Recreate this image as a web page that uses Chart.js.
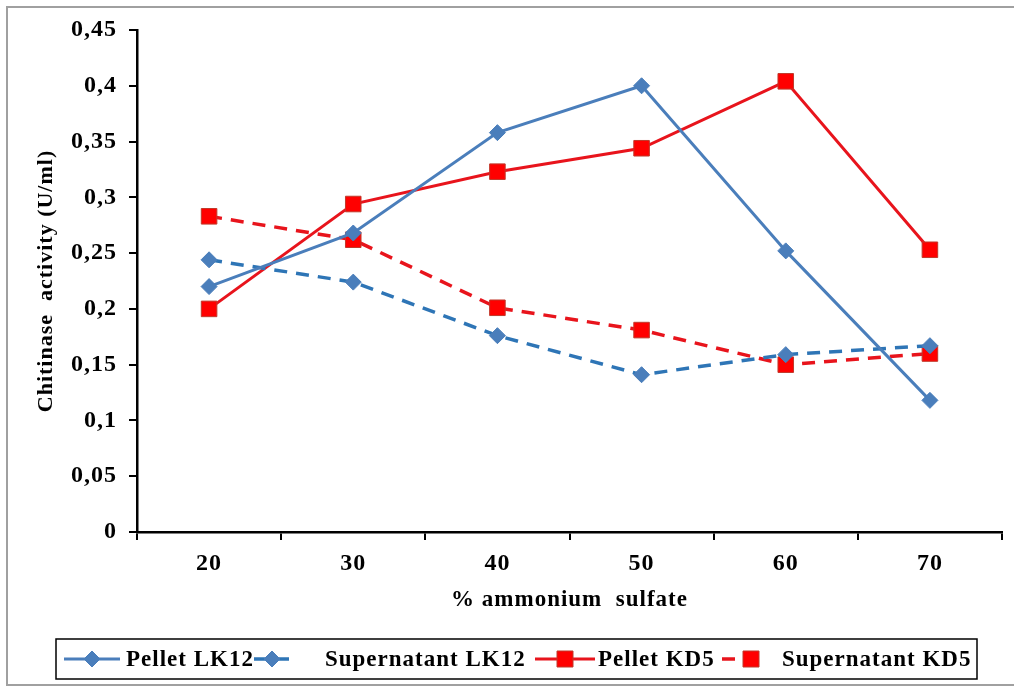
<!DOCTYPE html>
<html>
<head>
<meta charset="utf-8">
<script src="https://cdn.jsdelivr.net/npm/chart.js@4/dist/chart.umd.min.js"></script>
<style>
  html, body { margin: 0; padding: 0; background: #ffffff; }
  #wrap { width: 1014px; height: 689px; position: relative; }
  canvas { display: block; }
</style>
</head>
<body>
<div id="wrap"><canvas id="c" width="1014" height="689"></canvas></div>
<script>
// ---- data ----
const categories = ['20', '30', '40', '50', '60', '70'];
const pelletLK12 = [0.220, 0.268, 0.358, 0.400, 0.252, 0.118];
const supernatantLK12 = [0.244, 0.224, 0.176, 0.141, 0.159, 0.167];
const pelletKD5 = [0.200, 0.294, 0.323, 0.344, 0.404, 0.253];
const supernatantKD5 = [0.283, 0.262, 0.201, 0.181, 0.150, 0.160];
const yTickLabels = ['0', '0,05', '0,1', '0,15', '0,2', '0,25', '0,3', '0,35', '0,4', '0,45'];
const seriesNames = ['Pellet LK12', 'Supernatant LK12', 'Pellet KD5', 'Supernatant KD5'];
const xTitle = '% ammonium  sulfate';
const yTitle = 'Chitinase  activity (U/ml)';

const FONT = '"Liberation Serif", "Times New Roman", serif';
const BLUE = '#4a7ebb';
const BLUE_D = '#2e75b6';
const RED = '#ff0000';
const RED_LINE = '#e8141c';
const RED_EDGE = '#c0392b';

const spacingPlugin = {
  id: 'spacing',
  beforeInit(chart) { chart.ctx.letterSpacing = '1px'; },
  beforeDraw(chart) {
    const ctx = chart.ctx;
    ctx.letterSpacing = '1px';
    ctx.save();
    ctx.fillStyle = '#ffffff';
    ctx.fillRect(0, 0, chart.width, chart.height);
    ctx.strokeStyle = '#a0a0a0';
    ctx.lineWidth = 2;
    ctx.strokeRect(7, 7, chart.width + 10, 678);
    ctx.restore();
  }
};

function drawMarker(ctx, style, x, y, r, fill, edge) {
  ctx.save();
  ctx.setLineDash([]);
  ctx.fillStyle = fill;
  ctx.strokeStyle = edge;
  ctx.lineWidth = 1;
  ctx.beginPath();
  if (style === 'rectRot') {
    ctx.moveTo(x, y - r); ctx.lineTo(x + r, y); ctx.lineTo(x, y + r); ctx.lineTo(x - r, y);
  } else {
    ctx.rect(x - r, y - r, 2 * r, 2 * r);
  }
  ctx.closePath();
  ctx.fill();
  ctx.stroke();
  ctx.restore();
}

const legendPlugin = {
  id: 'boxLegend',
  afterDraw(chart, args, opts) {
    const ctx = chart.ctx;
    ctx.save();
    ctx.letterSpacing = '1px';
    ctx.strokeStyle = '#000';
    ctx.lineWidth = 1.5;
    ctx.strokeRect(opts.box[0], opts.box[1], opts.box[2], opts.box[3]);
    const cy = opts.box[1] + opts.box[3] / 2;
    chart.data.datasets.forEach((ds, i) => {
      const it = opts.items[i];
      ctx.save();
      ctx.strokeStyle = ds.borderColor;
      ctx.lineWidth = ds.borderWidth;
      ctx.setLineDash(ds.borderDash || []);
      ctx.beginPath();
      ctx.moveTo(it.sx, cy);
      ctx.lineTo(it.sx + it.sw, cy);
      ctx.stroke();
      ctx.restore();
      drawMarker(ctx, ds.pointStyle, it.mx, cy, 8,
                 ds.pointBackgroundColor, ds.pointBorderColor);
      ctx.fillStyle = '#000';
      ctx.font = 'bold 23px ' + FONT;
      ctx.textBaseline = 'middle';
      ctx.textAlign = 'left';
      ctx.fillText(ds.label, it.tx, cy + 1);
    });
    ctx.restore();
  }
};

const ctx = document.getElementById('c').getContext('2d');
new Chart(ctx, {
  type: 'line',
  data: {
    labels: categories,
    datasets: [
      { label: seriesNames[0], data: pelletLK12, borderColor: BLUE, borderWidth: 3,
        pointStyle: 'rectRot', pointRadius: 8, pointBackgroundColor: BLUE, pointBorderColor: BLUE, pointBorderWidth: 1 },
      { label: seriesNames[1], data: supernatantLK12, borderColor: BLUE_D, borderWidth: 3.5, borderDash: [13, 9],
        pointStyle: 'rectRot', pointRadius: 8, pointBackgroundColor: BLUE, pointBorderColor: BLUE, pointBorderWidth: 1 },
      { label: seriesNames[2], data: pelletKD5, borderColor: RED_LINE, borderWidth: 3,
        pointStyle: 'rect', pointRadius: 11, pointBackgroundColor: RED, pointBorderColor: RED_EDGE, pointBorderWidth: 1 },
      { label: seriesNames[3], data: supernatantKD5, borderColor: RED_LINE, borderWidth: 3.5, borderDash: [13, 9],
        pointStyle: 'rect', pointRadius: 11, pointBackgroundColor: RED, pointBorderColor: RED_EDGE, pointBorderWidth: 1 }
    ]
  },
  options: {
    responsive: false,
    animation: false,
    devicePixelRatio: 1,
    layout: { padding: { left: 0, right: 9, top: 30, bottom: 0 } },
    plugins: {
      legend: { display: false },
      tooltip: { enabled: false },
      boxLegend: {
        box: [56, 639, 921, 40],
        items: [
          { sx: 64, sw: 56, mx: 92, tx: 126 },
          { sx: 254, sw: 36, mx: 272, tx: 325 },
          { sx: 535, sw: 60, mx: 565, tx: 598 },
          { sx: 722, sw: 36, mx: 751, tx: 782 }
        ]
      }
    },
    scales: {
      x: {
        offset: true,
        grid: { offset: true, drawOnChartArea: false, drawTicks: true, tickLength: 8, color: '#000', lineWidth: 2 },
        border: { display: true, color: '#000', width: 2.5 },
        ticks: { color: '#000', padding: 9, font: { family: FONT, size: 24, weight: 'bold' }, maxRotation: 0 },
        title: { display: true, text: xTitle, color: '#000', font: { family: FONT, size: 23, weight: 'bold' },
                 padding: { top: 0, bottom: 75 } },
        afterFit(scale) { scale.height = 157; }
      },
      y: {
        min: 0, max: 0.45,
        grid: { drawOnChartArea: false, drawTicks: true, tickLength: 8, color: '#000', lineWidth: 2 },
        border: { display: true, color: '#000', width: 2.5 },
        ticks: {
          stepSize: 0.05, color: '#000', padding: 12,
          font: { family: FONT, size: 24, weight: 'bold' },
          callback: (v) => yTickLabels[Math.round(v / 0.05)]
        },
        title: { display: true, text: yTitle, color: '#000', font: { family: FONT, size: 22, weight: 'bold' },
                 padding: { top: 33, bottom: 0 } },
        afterFit(scale) { scale.width = 137; }
      }
    }
  },
  plugins: [spacingPlugin, legendPlugin]
});
</script>
</body>
</html>
